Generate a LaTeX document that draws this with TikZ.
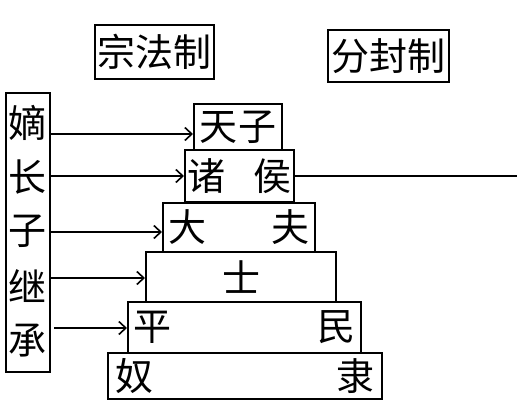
\documentclass[tikz,border=0pt]{standalone}
\usepackage{fontspec}
\newfontfamily\cjk{Noto Sans CJK SC}
\usetikzlibrary{arrows.meta}
\begin{document}
\begin{tikzpicture}[x=1pt, y=-1pt, line width=2pt,
        word/.style={inner sep=0, font=\cjk\fontsize{38}{38}\selectfont},
        box/.style={word, draw},
        arr/.style={-{Straight Barb[length=7pt, width=13pt, line width=1.6pt]}}]
    \useasboundingbox (0,0) rectangle (517,409);
    % titles
    \node[box, minimum width=119, minimum height=54] (zongfa) at (154.5,52) {宗法制};
    \node[box, minimum width=121, minimum height=52] (fenfeng) at (388.5,56) {分封制};
    % left column
    \node[box, minimum width=44, minimum height=279] (col) at (28,232.5) {};
    \foreach \c [count=\i] in {嫡,长,子,继,承}
        \node[word] (c\i) at (28,68+54.5*\i) {\c};
    % pyramid, bottom layer first
    \foreach \n/\x/\y/\w/\h/\a/\b/\s in {nuli/245/376/274/46/奴/隶/259, pingmin/244.5/327.5/233/51/平/民/222, shi/241/277/190/50/士//38, dafu/239/227.5/152/49/大/夫/142, zhuhou/239.5/176/109/52/诸/侯/104, tianzi/238/127/88/46/天/子/78}
        \node[box, fill=white, minimum width=\w, minimum height=\h] (\n) at (\x,\y) {\makebox[\s pt]{\a\hfill\b}};
    \foreach \n/\y in {tianzi/134, zhuhou/176, dafu/232, shi/278}
        \draw[arr] (col.east |- 0,\y) -- (\n.west |- 0,\y);
    \draw[arr, shorten <=3pt] (col.east |- 0,328) -- (pingmin.west |- 0,328);
    \coordinate (rim) at (517,176);
    \draw (zhuhou.east |- rim) -- (rim);
\end{tikzpicture}
\end{document}
